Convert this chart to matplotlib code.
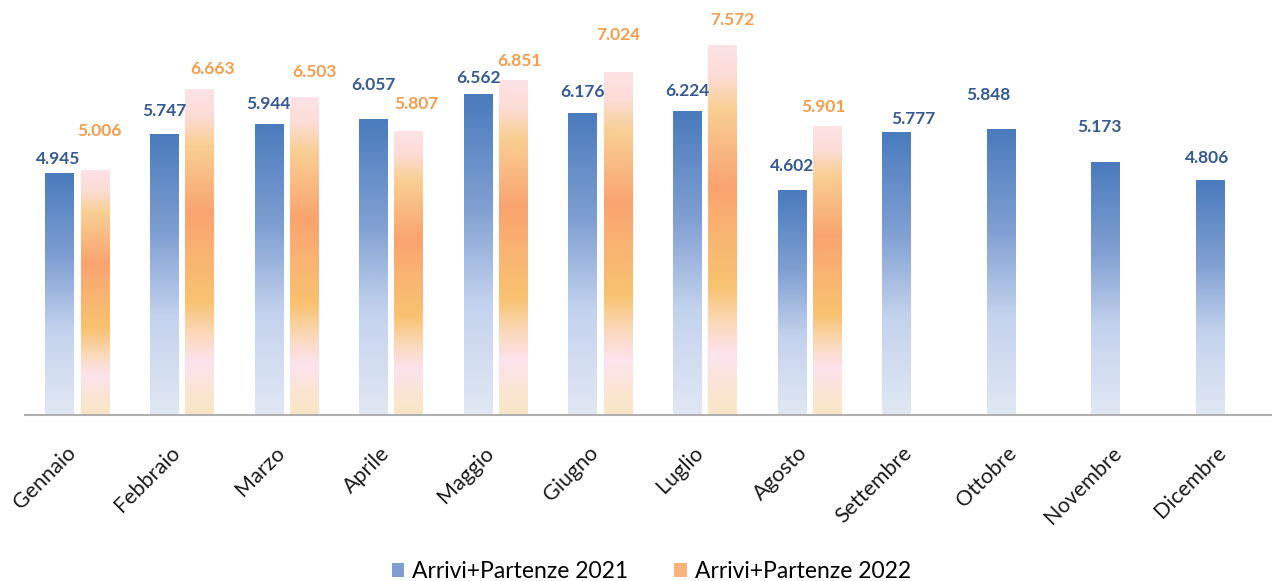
import numpy as np
import matplotlib
matplotlib.use("Agg")
import matplotlib.pyplot as plt
from matplotlib.colors import LinearSegmentedColormap
from matplotlib.patches import Patch
import matplotlib.transforms as mtransforms

plt.rcParams['font.family'] = ['Lato', 'DejaVu Sans']

# data (values in Italian notation, e.g. 4.945 = 4945)
mesi = ["Gennaio", "Febbraio", "Marzo", "Aprile", "Maggio", "Giugno",
        "Luglio", "Agosto", "Settembre", "Ottobre", "Novembre", "Dicembre"]
valori_2021 = [4945, 5747, 5944, 6057, 6562, 6176, 6224, 4602, 5777, 5848, 5173, 4806]
valori_2022 = [5006, 6663, 6503, 5807, 6851, 7024, 7572, 5901]
label_2021 = "Arrivi+Partenze 2021"
label_2022 = "Arrivi+Partenze 2022"

# hand placed data labels in the original: (dx, dy) in pixels from the bar top
pos_lab_2021 = [(-2, 15), (0, 23), (0, 21), (0, 34), (0, 17), (0, 21),
                (0, 20), (0, 24), (17, 14), (-13, 34), (-6, 35), (-3, 22)]
pos_lab_2022 = [(5, 40), (13, 21), (10, 26), (8, 27), (6, 20), (1, 37),
                (10, 25), (-3, 20)]

# gradients, top of bar -> bottom of bar
cmap_blu = LinearSegmentedColormap.from_list("blu", [
    (0.0, "#4a7bbd"), (0.35, "#7f9fd2"), (0.65, "#c3d2ed"), (1.0, "#e1e8f4")])
cmap_arancio = LinearSegmentedColormap.from_list("arancio", [
    (0.0, "#fde3e6"), (0.08, "#fcdcd6"), (0.17, "#f9cf93"), (0.38, "#f9a46f"),
    (0.52, "#f9b572"), (0.65, "#f8c26f"), (0.75, "#fbd8b8"), (0.84, "#fde3ee"),
    (0.93, "#fbe5d2"), (1.0, "#f9e7c6")])

fig = plt.figure(figsize=(12.72, 5.81), dpi=100)
ax = fig.add_axes([25 / 1272, 1 - 415 / 581, (1280 - 25) / 1272, 415 / 581])

x = np.arange(len(mesi))
w = 0.272
off = 0.168

bars21 = ax.bar(x - off, valori_2021, w, color="none", zorder=2)
bars22 = ax.bar(x[:len(valori_2022)] + off, valori_2022, w, color="none", zorder=2)

grad = np.linspace(0, 1, 256).reshape(-1, 1)


def fill_gradient(bars, cmap):
    for b in bars:
        x0, y0 = b.get_x(), b.get_y()
        ax.imshow(grad, cmap=cmap, aspect="auto", interpolation="bilinear",
                  extent=[x0, x0 + b.get_width(), y0, y0 + b.get_height()],
                  origin="upper", zorder=1)


fill_gradient(bars21, cmap_blu)
fill_gradient(bars22, cmap_arancio)


def fmt(v):
    return f"{v:,}".replace(",", ".")


def put_labels(bars, vals, pos, color):
    for b, v, (dx, dy) in zip(bars, vals, pos):
        ax.annotate(fmt(v), (b.get_x() + b.get_width() / 2, v),
                    xytext=(dx * 0.72, dy * 0.72), textcoords="offset points",
                    ha="center", va="center", fontsize=12.5, fontweight="bold",
                    color=color)


put_labels(bars21, valori_2021, pos_lab_2021, "#365a8f")
put_labels(bars22, valori_2022, pos_lab_2022, "#f59d4c")

ax.set_xlim(-0.5, len(mesi) - 0.5)
ax.set_ylim(0, 8500)
ax.set_yticks([])
ax.set_xticks(x)
ax.set_xticklabels(mesi, rotation=45, ha="right", va="top",
                   rotation_mode="anchor", fontsize=15.5, color="#1a1a1a")
ax.tick_params(axis="x", length=0, pad=20)
shift = mtransforms.ScaledTranslation(-0.12, 0, fig.dpi_scale_trans)
for lab in ax.get_xticklabels():
    lab.set_transform(lab.get_transform() + shift)

for s in ["top", "right", "left"]:
    ax.spines[s].set_visible(False)
ax.spines["bottom"].set_color("#b0b0b0")
ax.spines["bottom"].set_linewidth(1.5)

handles = [Patch(facecolor="#7f9fd2", label=label_2021),
           Patch(facecolor="#f9b27a", label=label_2022)]
fig.legend(handles=handles, loc="center", bbox_to_anchor=(0.512, 1 - 572 / 581),
           ncol=2, frameon=False, fontsize=16.5, handlelength=0.55, handleheight=0.55,
           handletextpad=0.35, columnspacing=2.0)

fig.savefig("out.png", dpi=100)
